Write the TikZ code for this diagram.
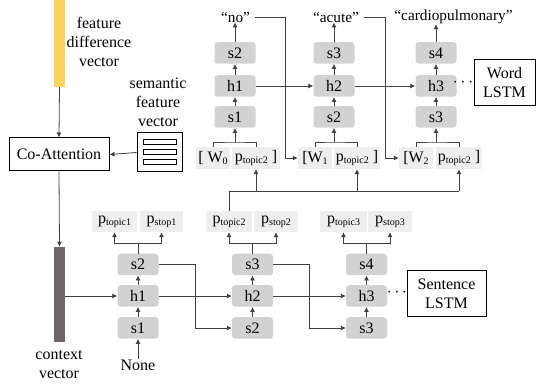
\documentclass[tikz,border=0pt]{standalone}
\usepackage{fontspec}
\setmainfont{Liberation Serif}[Ligatures=TeX]
\usetikzlibrary{arrows.meta,positioning,calc}
\definecolor{lstmgray}{HTML}{D3D2D2}
\definecolor{ingray}{HTML}{EEEEEE}
\definecolor{linegray}{HTML}{404040}
\definecolor{ybar}{HTML}{FCD45C}
\definecolor{cbar}{HTML}{6E6767}
\newcommand{\mysub}[1]{\raisebox{-0.3ex}{\fontsize{10}{10}\selectfont #1}}
\tikzset{
  every node/.style={font=\rmfamily\fontsize{16}{19}\selectfont, inner sep=0pt},
  lstm/.style={fill=lstmgray, rounded corners=3pt, minimum width=41pt, minimum height=21.5pt},
  inbox/.style={fill=ingray, minimum height=22pt},
  pbox/.style={fill=ingray, minimum height=21pt},
  frame/.style={draw=black, line width=1pt, fill=white},
  conn/.style={draw=linegray, line width=0.8pt},
  arr/.style={conn, -{Latex[length=5pt,width=5pt]}},
  lbl/.style={align=center},
  word/.style={font=\rmfamily\fontsize{15.3}{18}\selectfont},
}
\begin{document}
\begin{tikzpicture}[x=1pt,y=-1pt]
\useasboundingbox (0,0) rectangle (536,390);
% left side
\node[fill=ybar, minimum width=11pt, minimum height=87pt] (fdv) at (59.5,43.5) {};
\node[lbl] (fdvt) at (99,42) {feature\\difference\\vector};
\node[frame, minimum width=100pt, minimum height=33pt] (coatt) at (59,154.5) {Co-Attention};
\node[lbl] (semt) at (158,102) {semantic\\feature\\vector};
\node[frame, minimum width=45pt, minimum height=39pt] (sem) at (159.5,152.5) {};
\foreach \yy in {141.5,151.5,161.5}{
  \draw[line width=0.8pt] (143,\yy-2.5) rectangle (176,\yy+2.5);
}
\node[fill=cbar, minimum width=11pt, minimum height=95pt] (ctx) at (59.5,294.5) {};
\node[lbl] (ctxt) at (59,365) {context\\vector};
\draw[arr] (fdv.south) -- (coatt.north);
\draw[arr] (sem.west) -- (coatt.east);
\draw[arr] (coatt.south) -- (ctx.north);

% sentence LSTM
\node[lstm] (ss2) at (138,264.5) {s2};
\node[lstm] (sh1) at (138,296) {h1};
\node[lstm] (ss1) at (138,328) {s1};
\node[lstm] (ss3) at (252.5,264.5) {s3};
\node[lstm] (sh2) at (252.5,296) {h2};
\node[lstm] (ss2b) at (252.5,328) {s2};
\node[lstm] (ss4) at (366.5,264.5) {s4};
\node[lstm] (sh3) at (366.5,296) {h3};
\node[lstm] (ss3b) at (366.5,328) {s3};
\node (none) at (138,365) {None};
\node (sdots) at (397,293) {$\cdots$};
\node[frame, minimum width=79pt, minimum height=46pt, align=center] (slstm) at (446.5,294) {Sentence\\LSTM};

\node[pbox, minimum width=45pt] (pt1) at (114.5,221.5) {p\mysub{topic1}};
\node[pbox, minimum width=43pt] (ps1) at (161.5,221.5) {p\mysub{stop1}};
\node[pbox, minimum width=46pt] (pt2) at (229,221.5) {p\mysub{topic2}};
\node[pbox, minimum width=44pt] (ps2) at (276,221.5) {p\mysub{stop2}};
\node[pbox, minimum width=47pt] (pt3) at (343.5,221.5) {p\mysub{topic3}};
\node[pbox, minimum width=44pt] (ps3) at (390,221.5) {p\mysub{stop3}};

\foreach \s/\t/\p in {ss2/pt1/ps1, ss3/pt2/ps2, ss4/pt3/ps3}{
  \coordinate (br\s) at ($(\s.north)+(0,-10)$);
  \draw[conn] (\s.north) -- (br\s);
  \draw[arr] (br\s) -| (\t.south);
  \draw[arr] (br\s) -| (\p.south);
}
\draw[arr] (none.north) -- (ss1.south);
\foreach \a/\b in {ss1/sh1, sh1/ss2, ss2b/sh2, sh2/ss3, ss3b/sh3, sh3/ss4}{
  \draw[arr] (\a.north) -- (\b.south);
}
\draw[arr] (ctx.east |- sh1.west) -- (sh1.west);
\draw[arr] (sh1.east) -- (sh2.west);
\draw[arr] (sh2.east) -- (sh3.west);
\draw[arr] (ss2.east) -- (195,264.5) |- (ss2b.west);
\draw[arr] (ss3.east) -- (309,264.5) |- (ss3b.west);

% word LSTM
\node[lstm] (ws2) at (235,53) {s2};
\node[lstm] (wh1) at (235,86) {h1};
\node[lstm] (ws1) at (235,117) {s1};
\node[lstm] (ws3) at (334,53) {s3};
\node[lstm] (wh2) at (334,86) {h2};
\node[lstm] (ws2b) at (334,117) {s2};
\node[lstm] (ws4) at (436,53) {s4};
\node[lstm] (wh3) at (436,86) {h3};
\node[lstm] (ws3b) at (436,117) {s3};
\node[word] (no) at (235.5,17) {``no''};
\node[word] (acute) at (336,17) {``acute''};
\node[word] (cardio) at (453.5,17) {``cardiopulmonary''};
\node (wdots) at (463,83) {$\cdots$};
\node[frame, minimum width=61pt, minimum height=46pt, align=center] (wlstm) at (504.5,83) {Word\\LSTM};

\node[inbox, minimum width=34pt] (w0) at (213,158) {[ W\mysub{0}};
\node[inbox, minimum width=48pt] (wp1) at (256,158) {p\mysub{topic2} ]};
\node[inbox, minimum width=34pt] (w1) at (315,158) {[W\mysub{1}};
\node[inbox, minimum width=46pt] (wp2) at (357,158) {p\mysub{topic2} ]};
\node[inbox, minimum width=34pt] (w2) at (416,158) {[W\mysub{2}};
\node[inbox, minimum width=46pt] (wp3) at (459,158) {p\mysub{topic2} ]};

\foreach \w/\p/\s in {w0/wp1/ws1, w1/wp2/ws2b, w2/wp3/ws3b}{
  \coordinate (bk\s) at (\s.south |- 0,142);
  \draw[conn] (\w.north) |- (bk\s) -| (\p.north);
  \draw[arr] (bk\s) -- (\s.south);
}
\foreach \a/\b in {ws1/wh1, wh1/ws2, ws2b/wh2, wh2/ws3, ws3b/wh3, wh3/ws4}{
  \draw[arr] (\a.north) -- (\b.south);
}
\draw[arr] (ws2.north) -- (ws2.north |- no.south);
\draw[arr] (ws3.north) -- (ws3.north |- acute.south);
\draw[arr] (ws4.north) -- (ws4.north |- cardio.south);
\draw[arr] (wh1.east) -- (wh2.west);
\draw[arr] (wh2.east) -- (wh3.west);
\draw[arr] (no.east) ++(5,0) -- (285,17) |- (w1.west);
\draw[arr] (acute.east) ++(5,0) -- (385,17) |- (w2.west);

% feeder from sentence p_topic2
\coordinate (fl) at (pt2.north |- 0,191);
\coordinate (fr) at (wp3.south |- 0,191);
\draw[conn] (pt2.north) -- (fl) -- (fr);
\draw[arr] (wp1.south |- fl) -- (wp1.south);
\draw[arr] (wp2.south |- fl) -- (wp2.south);
\draw[arr] (fr) -- (wp3.south);
\end{tikzpicture}
\end{document}
